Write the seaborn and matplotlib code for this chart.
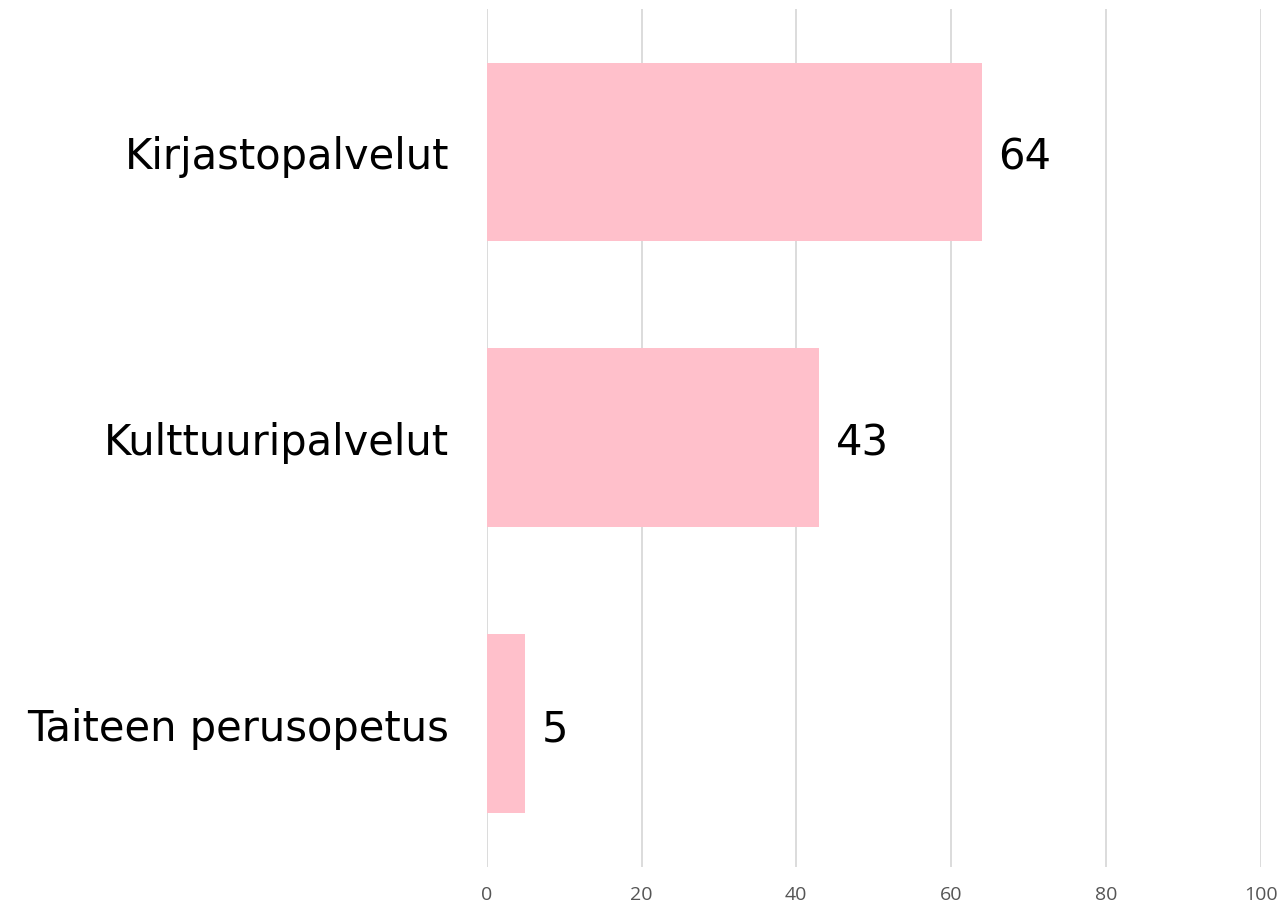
import matplotlib
matplotlib.use("Agg")
import matplotlib.pyplot as plt
import pandas as pd
import seaborn as sns

categories = ['Kirjastopalvelut', 'Kulttuuripalvelut', 'Taiteen perusopetus']
values = [64, 43, 5]
xticks = [0, 20, 40, 60, 80, 100]

df = pd.DataFrame({'palvelu': categories, 'arvo': values})

sns.set_style('white')
plt.rcParams['font.family'] = ['DejaVu Sans']

fig = plt.figure(figsize=(12.81, 9.03), dpi=100)
ax = fig.add_axes([0.380, 0.039, 0.604, 0.950])

sns.barplot(data=df, x='arvo', y='palvelu', orient='h', color='#ffc0cb',
            saturation=1, width=0.625, ax=ax, zorder=2, linewidth=0)

for i, v in enumerate(values):
    ax.text(v + 2.1, i, str(v), va='center_baseline', ha='left', fontsize=30,
            color='black')

ax.set_xlim(0, 100)
ax.set_ylim(2.5, -0.5)
ax.set_xticks(xticks)
ax.grid(axis='x', color='#d9d9d9', linewidth=1.3, zorder=0)
ax.set_axisbelow(True)
for s in ax.spines.values():
    s.set_visible(False)
ax.tick_params(axis='y', length=0, pad=27, labelsize=30, labelcolor='black')
ax.tick_params(axis='x', length=0, pad=13, labelsize=14, labelcolor='#555555')
for lab in ax.get_yticklabels():
    lab.set_verticalalignment('center_baseline')
for lab in ax.get_xticklabels():
    lab.set_family('Open Sans')
ax.set_xlabel('')
ax.set_ylabel('')

fig.savefig('out.png', dpi=100, facecolor='white')
